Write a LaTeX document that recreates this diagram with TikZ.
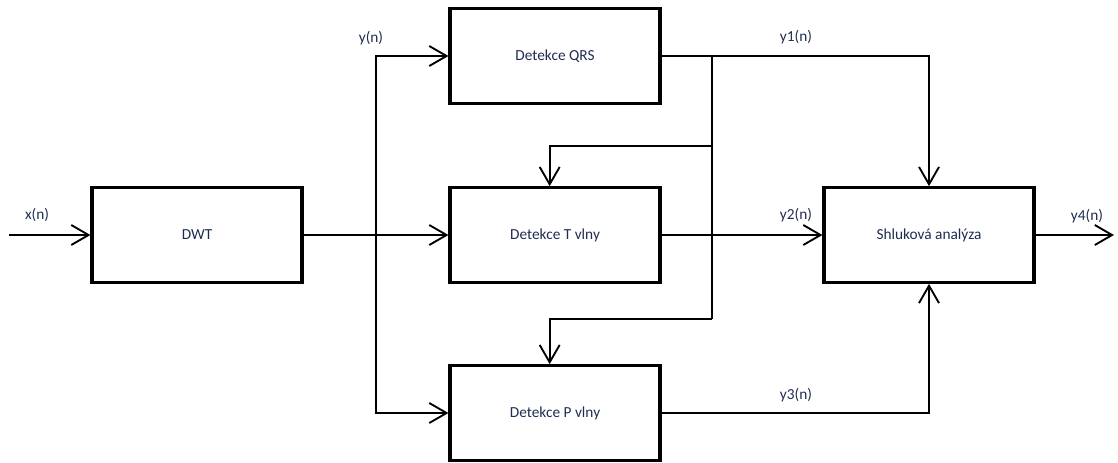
\documentclass[tikz,border=0pt]{standalone}
\usepackage{fontspec}
\setmainfont{Carlito}
\usetikzlibrary{arrows.meta}
\definecolor{txt}{HTML}{1F2D4E}
\begin{document}
\begin{tikzpicture}[x=0.75pt,y=-0.75pt,
  blok/.style={draw=black,line width=2.3pt,minimum width=157.5pt,minimum height=71pt,inner sep=0pt,font=\fontsize{11.5}{13}\selectfont,text=txt},
  conn/.style={line width=1.4pt,-{Straight Barb[length=13pt,width=15pt,line width=1.4pt]}},
  wire/.style={line width=1.4pt},
  lab/.style={font=\fontsize{11.5}{13}\selectfont,text=txt,inner sep=0pt}]
\useasboundingbox (0,0) rectangle (1118,462);
\node[blok] (dwt) at (197,235) {DWT};
\node[blok] (qrs) at (555,56) {Detekce QRS};
\node[blok] (tv) at (555,235) {Detekce T vlny};
\node[blok] (pv) at (555,413) {Detekce P vlny};
\node[blok] (sa) at (929,235) {Shluková analýza};
\coordinate (in) at (9,235);
\coordinate (out) at (1114,235);
\coordinate (spl) at (376,235);
\coordinate (br) at (712,56);
\coordinate (brT) at (712,146);
\coordinate (brP) at (712,319);
\draw[conn] (in) -- (dwt.west);
\draw[conn] (dwt.east) -- (tv.west);
\draw[conn] (spl) |- (qrs.west);
\draw[conn] (spl) |- (pv.west);
\draw[conn] (qrs.east) -| (sa.north);
\draw[wire] (br) -- (brP);
\draw[conn] (brT) -| ([xshift=-4]tv.north);
\draw[conn] (brP) -| ([xshift=-4]pv.north);
\draw[conn] (tv.east) -- (sa.west);
\draw[conn] (pv.east) -| (sa.south);
\draw[conn] (sa.east) -- (out);
\node[lab] (lx) at (37,215) {x(n)};
\node[lab] (ly) at (371,38) {y(n)};
\node[lab] (l1) at (796,37) {y1(n)};
\node[lab] (l2) at (796,215) {y2(n)};
\node[lab] (l3) at (796,395) {y3(n)};
\node[lab] (l4) at (1087,216) {y4(n)};
\end{tikzpicture}
\end{document}
